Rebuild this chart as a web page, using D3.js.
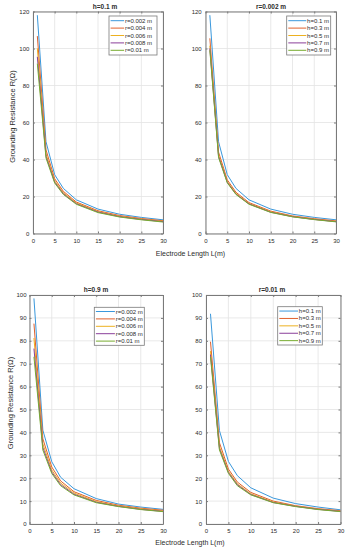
<!DOCTYPE html>
<html>
<head>
<meta charset="utf-8">
<script src="https://cdn.jsdelivr.net/npm/d3@7"></script>
<style>
	body { margin: 0; background: #fff; }
	svg text { font-family: "Liberation Sans", Arial, sans-serif; fill: #2b2b2b; }
</style>
</head>
<body>
<div id="vizHolder"></div>
<script>
// electrode lengths (m) at which each curve is sampled
var lengths = [1, 3, 5, 7, 10, 15, 20, 25, 30];

var radiusNames = ['r=0.002 m', 'r=0.004 m', 'r=0.006 m', 'r=0.008 m', 'r=0.01 m'];
var heightNames = ['h=0.1 m', 'h=0.3 m', 'h=0.5 m', 'h=0.7 m', 'h=0.9 m'];

// h=0.1 m, one row per radius
var h01Values = [
	[118.0, 49.6, 31.8, 24.4, 18.2, 13.2, 10.4, 8.7, 7.4],
	[106.7, 45.2, 29.6, 22.8, 17.0, 12.3, 9.7, 8.1, 6.9],
	[100.1, 43.0, 28.5, 22.0, 16.5, 11.9, 9.3, 7.8, 6.6],
	[95.5, 41.7, 27.8, 21.5, 16.1, 11.6, 9.1, 7.6, 6.4],
	[91.8, 40.8, 27.3, 21.1, 15.8, 11.3, 8.9, 7.4, 6.2]
];

// r=0.002 m, one row per burial depth
var r002Values = [
	[118.0, 49.6, 31.8, 24.4, 18.2, 13.2, 10.4, 8.7, 7.4],
	[105.5, 44.0, 29.0, 22.3, 16.7, 12.1, 9.5, 8.0, 6.8],
	[101.5, 42.3, 28.1, 21.6, 16.2, 11.7, 9.2, 7.7, 6.5],
	[100.0, 41.6, 27.7, 21.3, 16.0, 11.5, 9.1, 7.6, 6.4],
	[99.0, 41.1, 27.4, 21.1, 15.8, 11.4, 9.0, 7.5, 6.3]
];

// h=0.9 m, one row per radius
var h09Values = [
	[98.5, 41.0, 27.2, 20.4, 15.4, 11.1, 8.7, 7.4, 6.4],
	[87.5, 37.2, 24.9, 18.8, 14.1, 10.3, 8.2, 6.9, 6.0],
	[81.2, 35.0, 23.6, 17.9, 13.5, 9.8, 7.9, 6.6, 5.7],
	[76.6, 33.4, 22.7, 17.2, 13.0, 9.5, 7.7, 6.4, 5.5],
	[73.0, 32.3, 22.1, 16.7, 12.7, 9.3, 7.6, 6.3, 5.4]
];

// r=0.01 m, one row per burial depth
var r001Values = [
	[91.8, 40.8, 27.3, 21.1, 15.8, 11.3, 8.9, 7.4, 6.2],
	[79.6, 35.5, 24.0, 18.3, 13.8, 10.0, 8.0, 6.7, 5.8],
	[75.5, 33.8, 23.0, 17.5, 13.2, 9.6, 7.8, 6.5, 5.6],
	[74.0, 32.9, 22.5, 17.1, 12.9, 9.4, 7.7, 6.4, 5.5],
	[73.0, 32.3, 22.1, 16.7, 12.7, 9.3, 7.6, 6.3, 5.4]
];

var xTicks = [0, 5, 10, 15, 20, 25, 30];
var yTicksTop = [0, 20, 40, 60, 80, 100, 120];
var yTicksBottom = [0, 10, 20, 30, 40, 50, 60, 70, 80, 90, 100];

var colors = ['#3a98dc', '#e0602c', '#edb120', '#8a3f9a', '#77ac30'];

var panels = [
	{ values: h01Values, names: radiusNames, title: 'h=0.1 m', yMax: 120, yTicks: yTicksTop,
		left: 33, right: 163, top: 11.5, bottom: 233.5, titleX: 105, titleY: 9.3, xPad: 5.5, yPad: 3.7,
		legend: { x: 109, y: 16, w: 48, h: 39, line: 13.5 } },
	{ values: r002Values, names: heightNames, title: 'r=0.002 m', yMax: 120, yTicks: yTicksTop,
		left: 205.5, right: 336, top: 11.5, bottom: 233.5, titleX: 271, titleY: 9.3, xPad: 5.5, yPad: 3.8,
		legend: { x: 286.7, y: 16, w: 44, h: 39, line: 18 } },
	{ values: h09Values, names: radiusNames, title: 'h=0.9 m', yMax: 100, yTicks: yTicksBottom,
		left: 29.5, right: 163, top: 295, bottom: 524, titleX: 96, titleY: 291.7, xPad: 5, yPad: 3,
		legend: { x: 94.3, y: 307.3, w: 50, h: 38, line: 19 } },
	{ values: r001Values, names: heightNames, title: 'r=0.01 m', yMax: 100, yTicks: yTicksBottom,
		left: 206, right: 340.5, top: 295, bottom: 524, titleX: 272, titleY: 291.7, xPad: 5, yPad: 4,
		legend: { x: 277.7, y: 306.7, w: 44.6, h: 38.3, line: 18.7 } }
];

var width = 350,
	height = 550;

var svg = d3.select('#vizHolder')
	.append('svg')
	.attr('width', width)
	.attr('height', height);

panels.forEach(function(p) {
	var x = d3.scaleLinear().domain([0, 30]).range([p.left, p.right]);
	var y = d3.scaleLinear().domain([0, p.yMax]).range([p.bottom, p.top]);
	var g = svg.append('g');

	// grid
	g.selectAll('.vgrid').data(xTicks).enter().append('line')
		.attr('x1', function(d) { return x(d); })
		.attr('x2', function(d) { return x(d); })
		.attr('y1', p.top).attr('y2', p.bottom)
		.attr('stroke', '#e3e3e3').attr('stroke-width', 0.8);
	g.selectAll('.hgrid').data(p.yTicks).enter().append('line')
		.attr('y1', function(d) { return y(d); })
		.attr('y2', function(d) { return y(d); })
		.attr('x1', p.left).attr('x2', p.right)
		.attr('stroke', '#e3e3e3').attr('stroke-width', 0.8);

	// curves
	var line = d3.line()
		.x(function(d, i) { return x(lengths[i]); })
		.y(function(d) { return y(d); });
	p.values.forEach(function(s, i) {
		g.append('path')
			.attr('d', line(s))
			.attr('fill', 'none')
			.attr('stroke', colors[i])
			.attr('stroke-width', 1);
	});

	// axes (ticks inside, box on)
	var axes = [
		{ ax: d3.axisBottom(x).tickValues(xTicks).tickPadding(p.xPad), t: 'translate(0,' + p.bottom + ')' },
		{ ax: d3.axisTop(x).tickValues(xTicks).tickFormat(''), t: 'translate(0,' + p.top + ')' },
		{ ax: d3.axisLeft(y).tickValues(p.yTicks).tickPadding(p.yPad), t: 'translate(' + p.left + ',0)' },
		{ ax: d3.axisRight(y).tickValues(p.yTicks).tickFormat(''), t: 'translate(' + p.right + ',0)' }
	];
	axes.forEach(function(a) {
		var ag = g.append('g')
			.attr('transform', a.t)
			.call(a.ax.tickSize(-2).tickSizeOuter(0));
		ag.select('.domain').attr('stroke', '#7a7a7a');
		ag.selectAll('.tick line').attr('stroke', '#7a7a7a');
		ag.selectAll('text').attr('font-size', 6).attr('font-family', null).attr('fill', '#2b2b2b');
	});

	// title
	g.append('text')
		.attr('x', p.titleX).attr('y', p.titleY)
		.attr('text-anchor', 'middle')
		.attr('font-size', 6.5)
		.attr('font-weight', 'bold')
		.text(p.title);

	// legend
	var L = p.legend,
		step = 7.4,
		pad = (L.h - 4 * step) / 2;
	g.append('rect')
		.attr('x', L.x).attr('y', L.y)
		.attr('width', L.w).attr('height', L.h)
		.attr('fill', '#fff')
		.attr('stroke', '#7a7a7a')
		.attr('stroke-width', 0.8);
	p.names.forEach(function(name, i) {
		var ly = L.y + pad + i * step;
		g.append('line')
			.attr('x1', L.x + 1.6).attr('x2', L.x + 1.6 + L.line)
			.attr('y1', ly).attr('y2', ly)
			.attr('stroke', colors[i]).attr('stroke-width', 1);
		g.append('text')
			.attr('x', L.x + 2.4 + L.line).attr('y', ly + 2)
			.attr('font-size', 6)
			.text(name);
	});
});

// shared axis labels
svg.append('text')
	.attr('x', 190.5).attr('y', 256)
	.attr('text-anchor', 'middle')
	.attr('font-size', 7)
	.text('Electrode Length L(m)');
svg.append('text')
	.attr('x', 190).attr('y', 545)
	.attr('text-anchor', 'middle')
	.attr('font-size', 7)
	.text('Electrode Length L(m)');
svg.append('text')
	.attr('transform', 'translate(14.5,116.5) rotate(-90)')
	.attr('text-anchor', 'middle')
	.attr('font-size', 7.5)
	.text('Grounding Resistance R(Ω)');
svg.append('text')
	.attr('transform', 'translate(12.7,403) rotate(-90)')
	.attr('text-anchor', 'middle')
	.attr('font-size', 7.5)
	.text('Grounding Resistance R(Ω)');
</script>
</body>
</html>
